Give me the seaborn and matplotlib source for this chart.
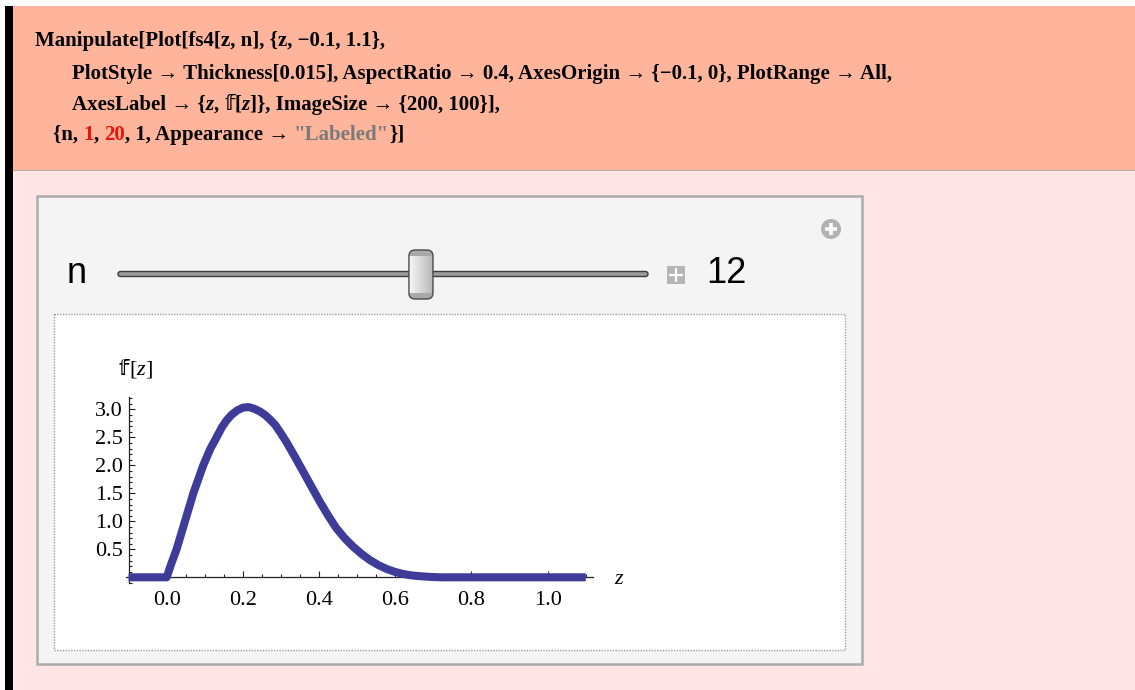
import matplotlib
matplotlib.use("Agg")
import matplotlib.pyplot as plt
import seaborn as sns
import numpy as np
from matplotlib.patches import Rectangle, FancyBboxPatch, Circle
from matplotlib.ticker import MultipleLocator, FixedLocator

# ---------------- data ----------------
z_values = [-0.1, 0.0, 0.012, 0.026, 0.048, 0.070, 0.096, 0.115, 0.131, 0.145,
            0.157, 0.170, 0.185, 0.200, 0.215, 0.230, 0.245, 0.258, 0.271, 0.285,
            0.297, 0.314, 0.336, 0.358, 0.380, 0.402, 0.424, 0.445, 0.467, 0.489,
            0.511, 0.533, 0.555, 0.577, 0.600, 0.620, 0.642, 0.664, 0.690, 0.720,
            0.800, 1.100]
f_values = [0.0, 0.0, 0.24, 0.5, 1.0, 1.5, 2.0, 2.3, 2.5, 2.68,
            2.8, 2.9, 2.98, 3.03, 3.04, 3.01, 2.96, 2.9, 2.82, 2.72,
            2.6, 2.42, 2.16, 1.89, 1.62, 1.35, 1.1, 0.88, 0.7, 0.55,
            0.42, 0.31, 0.22, 0.15, 0.095, 0.06, 0.035, 0.02, 0.008, 0.0,
            0.0, 0.0]
x_ticks = [0.0, 0.2, 0.4, 0.6, 0.8, 1.0]
x_tick_labels = ["0.0", "0.2", "0.4", "0.6", "0.8", "1.0"]
y_ticks = [0.5, 1.0, 1.5, 2.0, 2.5, 3.0]
y_tick_labels = ["0.5", "1.0", "1.5", "2.0", "2.5", "3.0"]
slider_label = "n"
slider_min, slider_max, slider_value = 1, 20, 12

DS = "\U0001D557"  # double-struck small f
code_lines = [
    [("Manipulate[Plot[fs4[z, n], {z, \u22120.1, 1.1},", "black", "normal")],
    [("PlotStyle \u2192 Thickness[0.015], AspectRatio \u2192 0.4, AxesOrigin \u2192 {\u22120.1, 0}, PlotRange \u2192 All,", "black", "normal")],
    [("AxesLabel \u2192 {", "black", "normal"), ("z", "black", "italic"), (", ", "black", "normal"),
     (DS, "black", "ds"), ("[", "black", "normal"), ("z", "black", "italic"),
     ("]}, ImageSize \u2192 {200, 100}],", "black", "normal")],
    [("{n, ", "black", "normal"), ("1", "#E8160C", "normal"), (", ", "black", "normal"),
     ("20", "#E8160C", "normal"), (", 1, Appearance \u2192 ", "black", "normal"),
     ("\"Labeled\"", "#7A7A7A", "normal"), ("}]", "black", "normal")],
]
code_x = [35, 72, 72, 53]
code_y = [46, 79, 110, 140]

# ---------------- figure ----------------
sns.set_theme(style="white")
plt.rcParams["font.family"] = ["Liberation Serif", "DejaVu Serif"]

W, H = 1135, 690
fig = plt.figure(figsize=(W / 100, H / 100), dpi=100, facecolor="white")
bg = fig.add_axes([0, 0, 1, 1], zorder=0)
bg.set_xlim(0, W)
bg.set_ylim(H, 0)
bg.axis("off")

def rect(x0, y0, x1, y1, **kw):
    bg.add_patch(Rectangle((x0, y0), x1 - x0, y1 - y0, **kw))

# notebook cells
rect(13, 6, W, 169.5, facecolor="#FFB59C", edgecolor="none")
rect(13, 169.5, W, 171, facecolor="#B9A7A4", edgecolor="none")
rect(13, 171, W, H, facecolor="#FFE5E5", edgecolor="none")
rect(5, 6, 13, H, facecolor="black", edgecolor="none")

renderer = fig.canvas.get_renderer()

def text_width(s, **kw):
    t = bg.text(0, 0, s, **kw)
    w = t.get_window_extent(renderer=renderer).width
    t.remove()
    return w

def put_segments(x, y, segs, size, weight):
    for s, color, style in segs:
        if style == "ds":
            kw = dict(fontfamily=["DejaVu Sans"], fontweight=weight, fontsize=size)
        else:
            kw = dict(fontfamily=["Liberation Serif", "DejaVu Serif"], fontweight=weight,
                      fontsize=size, fontstyle=style)
        bg.text(x, y, s, color=color, va="baseline", ha="left", **kw)
        x += text_width(s + "|", **kw) - text_width("|", **kw)

for segs, x, y in zip(code_lines, code_x, code_y):
    put_segments(x, y, segs, 15, "bold")

# manipulate panel
rect(37, 196, 862, 664, facecolor="#F4F4F4", edgecolor="#ABABAB", linewidth=1.8)
rect(53.5, 313.5, 844.5, 650, facecolor="white", edgecolor="#A0A0A0",
     linewidth=1.0, linestyle=(0, (1, 1)))

# slider
bg.text(67, 283, slider_label, fontfamily="Liberation Sans", fontsize=26,
        color="black", va="baseline", ha="left")
track_x0, track_x1 = 118, 648
bg.add_patch(FancyBboxPatch((track_x0, 271.5), track_x1 - track_x0, 5,
                            boxstyle="round,pad=0,rounding_size=2.5",
                            facecolor="#9C9C9C", edgecolor="#3C3C3C", linewidth=1.0))
frac = (slider_value - slider_min) / (slider_max - slider_min)
thumb_c = track_x0 + 10 + frac * (track_x1 - track_x0 - 24)
thumb = FancyBboxPatch((thumb_c - 12, 250), 24, 49,
                       boxstyle="round,pad=0,rounding_size=6",
                       facecolor="none", edgecolor="#4A4A4A", linewidth=1.0, zorder=4)
bg.add_patch(thumb)
grad = np.linspace(0.97, 0.72, 50).reshape(1, -1)
im = bg.imshow(np.dstack([grad, grad, grad]), extent=[thumb_c - 12, thumb_c + 12, 299, 250],
               aspect="auto", zorder=3, interpolation="bilinear")
im.set_clip_path(thumb)
for ya, yb in [(250, 256), (293, 299)]:
    r = Rectangle((thumb_c - 12, ya), 24, yb - ya, facecolor="#A9A9A9", edgecolor="none", zorder=3.5)
    bg.add_patch(r)
    r.set_clip_path(thumb)
bg.set_xlim(0, W)
bg.set_ylim(H, 0)

# plus box and value
rect(667, 266, 685, 284, facecolor="#B6B6B6", edgecolor="none")
bg.plot([676, 676], [269, 281], color="white", lw=1.6)
bg.plot([670, 682], [275, 275], color="white", lw=1.6)
bg.text(706, 283, str(slider_value), fontfamily="Liberation Sans", fontsize=26,
        color="black", va="baseline", ha="left")

# circle plus icon
bg.add_patch(Circle((831, 229), 10, facecolor="#B2B2B2", edgecolor="none"))
bg.plot([831, 831], [223, 235], color="white", lw=2.6, solid_capstyle="butt")
bg.plot([825, 837], [229, 229], color="white", lw=2.6, solid_capstyle="butt")

# ---------------- plot ----------------
px_left, px_right, px_top, px_bottom = 125.9, 593.4, 397.0, 582.9
ax = fig.add_axes([px_left / W, (H - px_bottom) / H, (px_right - px_left) / W,
                   (px_bottom - px_top) / H], zorder=2)
ax.set_facecolor("none")
sns.lineplot(x=z_values, y=f_values, ax=ax, color="#3D3D99", linewidth=5.8,
             sort=False, zorder=3)
for ln in ax.get_lines():
    ln.set_solid_capstyle("butt")
    ln.set_solid_joinstyle("round")
ax.set_xlim(-0.107, 1.12)
ax.set_ylim(-0.1, 3.22)
for side in ["top", "right"]:
    ax.spines[side].set_visible(False)
ax.spines["left"].set_position(("data", -0.1))
ax.spines["bottom"].set_position(("data", 0.0))
for side in ["left", "bottom"]:
    ax.spines[side].set_color("#222222")
    ax.spines[side].set_linewidth(0.9)
    ax.spines[side].set_zorder(2)

ax.xaxis.set_major_locator(FixedLocator(x_ticks))
ax.set_xticklabels(x_tick_labels)
ax.yaxis.set_major_locator(FixedLocator(y_ticks))
ax.set_yticklabels(y_tick_labels)
ax.xaxis.set_minor_locator(MultipleLocator(0.05))
ax.yaxis.set_minor_locator(MultipleLocator(0.1))
ax.tick_params(which="both", direction="in", bottom=True, left=True, top=False, right=False,
               color="#222222", width=0.8)
ax.tick_params(which="major", length=4.0)
ax.tick_params(which="minor", length=2.2)
ax.tick_params(axis="x", which="major", pad=10, labelsize=16, labelcolor="black")
ax.tick_params(axis="y", which="major", pad=4, labelsize=16, labelcolor="black")
for lab in ax.get_xticklabels() + ax.get_yticklabels():
    lab.set_fontfamily("Liberation Serif")
ax.set_xlabel("")
ax.set_ylabel("")
ax.grid(False)

# axis labels
put_segments(119, 375, [(DS, "black", "ds"), ("[", "black", "normal"),
                        ("z", "black", "italic"), ("]", "black", "normal")], 16, "normal")
bg.text(619, 580, "z", fontfamily="Liberation Serif", fontstyle="italic", fontsize=16,
        ha="center", va="center", color="black")

fig.savefig("out.png", dpi=100, facecolor="white")
